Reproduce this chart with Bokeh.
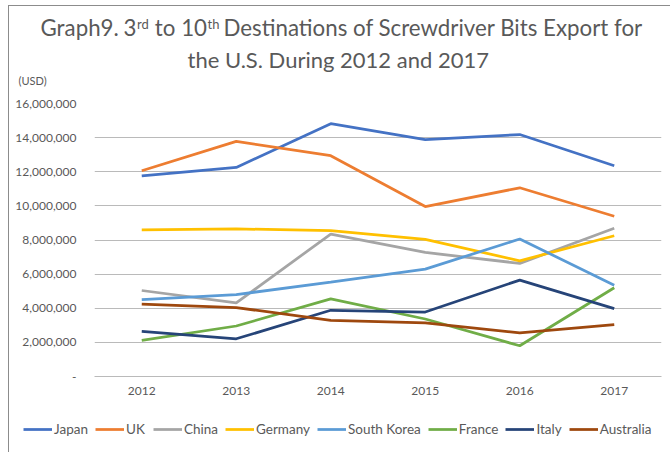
from bokeh.plotting import figure
from bokeh.layouts import column
from bokeh.models import (FactorRange, Range1d, FixedTicker, Legend, LegendItem,
                          ColumnDataSource)
from bokeh.core.properties import value
from bokeh.embed import file_html
from bokeh.resources import INLINE

years = ["2012", "2013", "2014", "2015", "2016", "2017"]
japan = [11760000, 12250000, 14820000, 13880000, 14180000, 12350000]
uk = [12060000, 13780000, 12940000, 9960000, 11060000, 9390000]
china = [5040000, 4310000, 8350000, 7270000, 6630000, 8690000]
germany = [8590000, 8650000, 8550000, 8040000, 6780000, 8250000]
south_korea = [4510000, 4800000, 5530000, 6290000, 8060000, 5350000]
france = [2120000, 2960000, 4550000, 3370000, 1800000, 5200000]
italy = [2650000, 2210000, 3880000, 3780000, 5650000, 3980000]
australia = [4240000, 4040000, 3290000, 3140000, 2550000, 3040000]

series_names = ["Japan", "UK", "China", "Germany", "South Korea", "France", "Italy", "Australia"]
series_values = [japan, uk, china, germany, south_korea, france, italy, australia]
series_colors = ["#4472C4", "#ED7D31", "#A5A5A5", "#FFC000", "#5B9BD5", "#70AD47", "#264478", "#9E480E"]

y_ticks = [0, 2000000, 4000000, 6000000, 8000000, 10000000, 12000000, 14000000, 16000000]
y_tick_labels = ["-", "2,000,000", "4,000,000", "6,000,000", "8,000,000", "10,000,000",
                 "12,000,000", "14,000,000", "16,000,000"]

title_a = "Graph9."
title_b = "3"
title_mid = "to 10"
title_right = "Destinations of Screwdriver Bits Export for"
title_sup = ["rd", "th"]
title_line2 = "the U.S. During 2012 and 2017"
unit_label = "(USD)"

FONT = "Lato"
TXT = "#595959"
GRID = "#BABABA"
TOP_H = 95
MID_H = 310
BOT_H = 452 - TOP_H - MID_H

# ---- title strip (pixel coordinates, y measured from the top) ----
t = figure(width=670, height=TOP_H, x_range=Range1d(0, 670), y_range=Range1d(TOP_H, 0),
           output_backend="svg", toolbar_location=None, x_axis_type=None, y_axis_type=None,
           min_border=0, title=None, frame_align=False)
t.outline_line_color = None
t.grid.visible = False
t.background_fill_color = None
t.border_fill_color = None
tk = dict(text_font=value(FONT), text_color=TXT, text_baseline="middle")
t.text(x=[40], y=[27], text=[title_a], text_font_size="22.3px", text_align="left", **tk)
t.text(x=[136, 206.5], y=[27, 27], text=[title_b, title_mid], text_font_size="22.3px",
       text_align="right", **tk)
t.text(x=[223], y=[27], text=[title_right], text_font_size="22.3px", text_align="left", **tk)
t.text(x=[136.5, 207], y=[23, 23], text=title_sup, text_font_size="13px", text_align="left", **tk)
t.text(x=[187], y=[59], text=[title_line2], text_font_size="22px", text_align="left", **tk)
t.text(x=[18], y=[80], text=[unit_label], text_font_size="11px", text_align="left", **tk)

# ---- main chart ----
p = figure(width=670, height=MID_H, x_range=FactorRange(*years, range_padding=0),
           y_range=Range1d(0, 16000000), output_backend="svg", toolbar_location=None,
           title=None, min_border_left=94, min_border_right=9, min_border_top=8,
           min_border_bottom=29, frame_align=False)
p.outline_line_color = None
p.background_fill_color = None
p.border_fill_color = None
p.xgrid.grid_line_color = None
p.ygrid.grid_line_color = GRID
p.ygrid.grid_line_width = 1

p.yaxis.ticker = FixedTicker(ticks=y_ticks)
p.yaxis.major_label_overrides = {t_: l for t_, l in zip(y_ticks, y_tick_labels)}
for ax in (p.xaxis[0], p.yaxis[0]):
    ax.major_tick_line_color = None
    ax.minor_tick_line_color = None
    ax.major_label_text_font = FONT
    ax.major_label_text_font_size = "12px"
    ax.major_label_text_color = TXT
p.yaxis.axis_line_color = None
p.yaxis.major_label_standoff = 12
p.xaxis.axis_line_color = GRID
p.xaxis.major_label_standoff = 4

for name, vals, col in zip(series_names, series_values, series_colors):
    src = ColumnDataSource(dict(x=years, y=vals))
    p.line("x", "y", source=src, line_color=col, line_width=2.75)

# ---- legend strip ----
lg = figure(width=670, height=BOT_H, x_range=Range1d(0, 670), y_range=Range1d(0, BOT_H),
            output_backend="svg", toolbar_location=None, x_axis_type=None, y_axis_type=None,
            min_border=0, title=None, frame_align=False)
lg.outline_line_color = None
lg.grid.visible = False
lg.background_fill_color = None
lg.border_fill_color = None
items = []
nan = float("nan")
for name, col in zip(series_names, series_colors):
    r = lg.line(x=[nan], y=[nan], line_color=col, line_width=2.75)
    items.append(LegendItem(label=name, renderers=[r]))
legend = Legend(items=items, orientation="horizontal", location=(23, 15),
                glyph_width=29, glyph_height=14, label_standoff=2, spacing=7,
                label_text_font=FONT, label_text_font_size="13.5px", label_text_color=TXT,
                padding=0, margin=0, border_line_color=None, background_fill_alpha=0)
lg.add_layout(legend, "center")

BORDER = "#8C8C8C"
layout = column(t, p, lg, spacing=0, styles={
    "background": (f"linear-gradient({BORDER},{BORDER}) 8px 5px / 1px 100% no-repeat, "
                   f"linear-gradient({BORDER},{BORDER}) 8px 5px / 100% 1px no-repeat"),
})
open("out.html", "w").write(file_html(layout, INLINE))
